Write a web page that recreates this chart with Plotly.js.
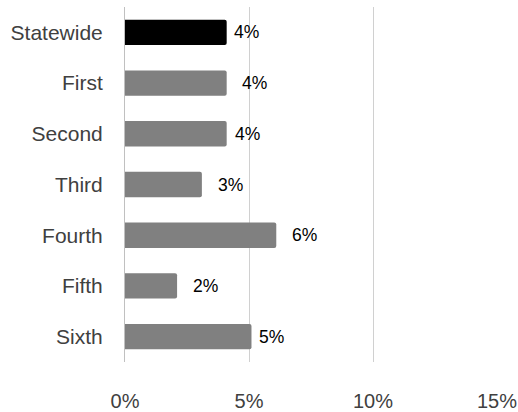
<!DOCTYPE html>
<html>
<head>
<meta charset="utf-8">
<script src="https://cdn.plot.ly/plotly-3.0.1.min.js"></script>
<style>html,body{margin:0;padding:0;background:#fff;}#chart{width:518px;height:412px;}</style>
</head>
<body>
<div id="chart"></div>
<script>
var categories = ["Statewide", "First", "Second", "Third", "Fourth", "Fifth", "Sixth"];
var values = [0.041, 0.041, 0.041, 0.031, 0.061, 0.021, 0.051];
var barColors = ["#000000", "#808080", "#808080", "#808080", "#808080", "#808080", "#808080"];
var labelShift = [5, 13, 6, 14, 14, 14, 6];
var tickVals = [0, 0.05, 0.10, 0.15];
var tickText = ["0%", "5%", "10%", "15%"];

var annotations = categories.map(function (c, i) {
  return {
    x: values[i], y: c, xref: "x", yref: "y",
    text: Math.round(values[i] * 100) + "%",
    showarrow: false, xanchor: "left", yanchor: "middle",
    xshift: labelShift[i],
    font: {family: "Liberation Sans, Arial, sans-serif", size: 17.5, color: "#000000"}
  };
});

var trace = {
  type: "bar",
  orientation: "h",
  y: categories,
  x: values,
  marker: {color: barColors, cornerradius: 2},
  hoverinfo: "none"
};

var layout = {
  width: 518, height: 412,
  margin: {l: 125, r: 21, t: 7, b: 50},
  paper_bgcolor: "#ffffff", plot_bgcolor: "#ffffff",
  showlegend: false,
  bargap: 0.5,
  xaxis: {
    range: [0, 0.15], tickvals: tickVals, ticktext: tickText,
    showgrid: true, gridcolor: "#d0d0d0", gridwidth: 1,
    zeroline: false, showline: false, ticks: "",
    ticklabelstandoff: 25,
    tickfont: {family: "Liberation Sans, Arial, sans-serif", size: 20, color: "#404040"},
    fixedrange: true
  },
  yaxis: {
    autorange: "reversed", categoryorder: "array", categoryarray: categories,
    showline: true, linecolor: "#c0c0c0", linewidth: 1,
    showgrid: false, zeroline: false, ticks: "",
    ticklabelstandoff: 17,
    tickfont: {family: "Liberation Sans, Arial, sans-serif", size: 21, color: "#404040"},
    fixedrange: true
  },
  annotations: annotations
};

Plotly.newPlot("chart", [trace], layout, {displayModeBar: false, staticPlot: true});
</script>
</body>
</html>
